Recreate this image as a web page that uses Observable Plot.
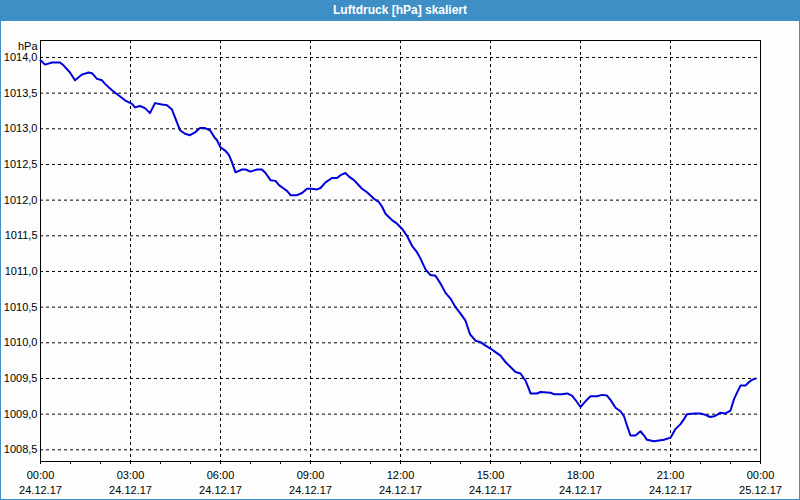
<!DOCTYPE html>
<html><head><meta charset="utf-8">
<script src="https://cdn.jsdelivr.net/npm/d3@7"></script>
<script src="https://cdn.jsdelivr.net/npm/@observablehq/plot@0.6"></script>
<style>
html,body{margin:0;padding:0;background:#fcfdfc;}
#wrap{width:800px;height:500px;box-sizing:border-box;border:1px solid #3d8fc6;border-top:none;background:#fcfdfc;overflow:hidden;font-family:"Liberation Sans",Arial,sans-serif;}
#title{height:21px;background:#3d8fc6;color:#fff;font-weight:bold;font-size:12px;text-align:center;line-height:20px;}
#chart svg{display:block;}
</style></head><body>
<div id="wrap"><div id="title">Luftdruck [hPa] skaliert</div><div id="chart"></div></div>
<script>
const times = ["00:00","00:09","00:23","00:39","00:46","00:59","01:09","01:23","01:36","01:43","01:53",
"02:03","02:09","02:23","02:36","02:49","03:03","03:09","03:19","03:29","03:39","03:49",
"04:03","04:13","04:23","04:29","04:39","04:49","04:59","05:09","05:19","05:29","05:39","05:48","05:53",
"06:00","06:10","06:17","06:23","06:30","06:43","06:50","07:00","07:13","07:23","07:30","07:40","07:50","07:57",
"08:07","08:13","08:20","08:33","08:43","08:53","09:03","09:13","09:20","09:30","09:43","09:53",
"10:00","10:10","10:17","10:27","10:43","10:53","11:07","11:17","11:23","11:30","11:43","11:53",
"12:03","12:13","12:23","12:33","12:40","12:50","13:00","13:10","13:20","13:30","13:40","13:50",
"14:00","14:10","14:19","14:30","14:40","14:50","15:00","15:10","15:20","15:30","15:40","15:50",
"16:00","16:10","16:17","16:20","16:33","16:40","17:00","17:07","17:23","17:33","17:43","17:53",
"18:00","18:10","18:20","18:33","18:43","18:53","19:00","19:10","19:20","19:27","19:33","19:40","19:50",
"20:00","20:07","20:13","20:27","20:37","20:47","21:00","21:10","21:20","21:27","21:33","21:47",
"22:00","22:10","22:19","22:27","22:33","22:40","22:50","23:00","23:07","23:15","23:20","23:30","23:37","23:43","23:50"];
const pressure = [1013.96,1013.90,1013.93,1013.93,1013.89,1013.79,1013.68,1013.76,1013.79,1013.78,1013.70,
1013.68,1013.63,1013.54,1013.47,1013.40,1013.35,1013.30,1013.32,1013.29,1013.22,1013.36,
1013.34,1013.33,1013.27,1013.16,1012.98,1012.93,1012.91,1012.95,1013.01,1013.01,1012.98,1012.88,1012.84,
1012.74,1012.69,1012.63,1012.53,1012.39,1012.43,1012.43,1012.40,1012.43,1012.43,1012.38,1012.28,1012.27,1012.21,
1012.16,1012.13,1012.07,1012.07,1012.10,1012.16,1012.16,1012.15,1012.17,1012.25,1012.31,1012.31,
1012.35,1012.38,1012.33,1012.28,1012.16,1012.11,1012.02,1011.97,1011.91,1011.81,1011.72,1011.67,
1011.60,1011.50,1011.36,1011.27,1011.18,1011.03,1010.95,1010.94,1010.83,1010.70,1010.62,1010.50,
1010.41,1010.31,1010.12,1010.03,1010.01,1009.96,1009.92,1009.87,1009.82,1009.73,1009.66,1009.59,
1009.57,1009.47,1009.35,1009.29,1009.29,1009.31,1009.30,1009.28,1009.28,1009.29,1009.26,1009.17,
1009.10,1009.18,1009.25,1009.25,1009.27,1009.26,1009.20,1009.09,1009.04,1008.97,1008.84,1008.70,1008.70,
1008.76,1008.70,1008.64,1008.62,1008.63,1008.64,1008.67,1008.79,1008.86,1008.93,1009.00,1009.01,
1009.01,1008.99,1008.96,1008.97,1008.99,1009.02,1009.01,1009.05,1009.21,1009.33,1009.40,1009.40,1009.45,1009.48,1009.50];
const yTicks = [1008.5,1009.0,1009.5,1010.0,1010.5,1011.0,1011.5,1012.0,1012.5,1013.0,1013.5,1014.0];
const unitLabel = "hPa";

const start = new Date(Date.UTC(2017,11,24,0,0));
const end = new Date(Date.UTC(2017,11,25,0,0));
const data = times.map((t,i)=>({date:new Date(Date.UTC(2017,11,24,+t.slice(0,2),+t.slice(3))), value:pressure[i]}));
const majorTicks = d3.utcHour.every(3).range(start, d3.utcHour.offset(end,1));
const hourTicks = d3.utcHour.range(start, d3.utcHour.offset(end,1));
const gridStyle = {stroke:"#000", strokeOpacity:1, strokeDasharray:"3,3"};

const chart = Plot.plot({
  width:798, height:478,
  marginLeft:39, marginRight:39, marginTop:19, marginBottom:38,
  style:{background:"transparent", fontFamily:"'Liberation Sans', Arial, sans-serif", fontSize:"11px", color:"#000"},
  x:{type:"utc", domain:[start,end]},
  y:{domain:[1008.336,1014.238]},
  marks:[
    Plot.gridY(yTicks, gridStyle),
    Plot.gridX(majorTicks.slice(1,-1), gridStyle),
    Plot.axisY(yTicks,{tickSize:0, tickPadding:3, tickFormat:d=>d.toFixed(1).replace(".",","), label:null}),
    Plot.axisX(hourTicks,{tickSize:3, tickFormat:()=>"", label:null}),
    Plot.axisX(majorTicks,{tickSize:0, tickPadding:10, tickFormat:d3.utcFormat("%H:%M"), label:null}),
    Plot.axisX(majorTicks,{tickSize:0, tickPadding:25, tickFormat:d3.utcFormat("%d.%m.%y"), label:null}),
    Plot.frame({stroke:"#000"}),
    Plot.line(data,{x:"date", y:"value", stroke:"#0000dd", strokeWidth:2}),
    Plot.text([unitLabel],{text:d=>d, frameAnchor:"top-left", textAnchor:"end", lineAnchor:"middle", dx:-3, dy:6, fill:"#000"})
  ]
});
document.getElementById("chart").appendChild(chart);
</script>
</body></html>
